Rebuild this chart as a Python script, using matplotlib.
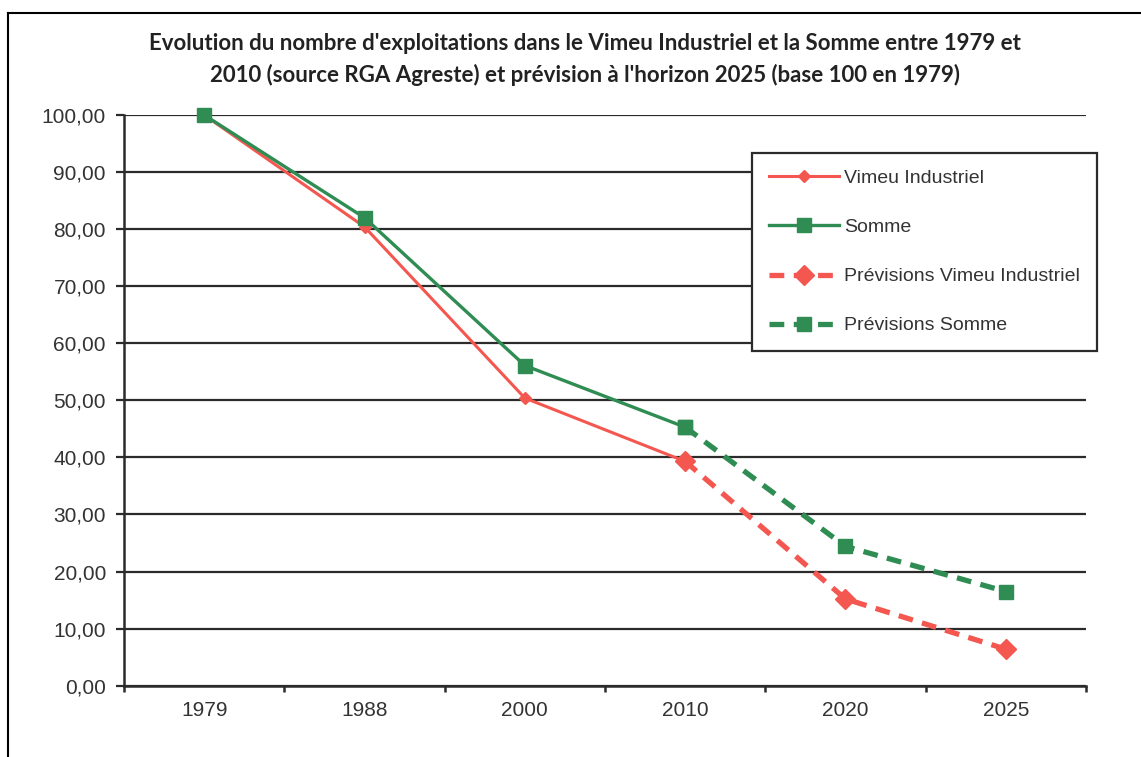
import numpy as np
import matplotlib
matplotlib.use('Agg')
from matplotlib import pyplot as plt
from matplotlib.lines import Line2D

matplotlib.rcParams['font.family'] = ['Liberation Sans', 'DejaVu Sans']

# données (base 100 en 1979)
annees = ['1979', '1988', '2000', '2010', '2020', '2025']
vimeu = [100, 80.4, 50.4, 39.3, np.nan, np.nan]
somme = [100, 82.0, 56.1, 45.3, np.nan, np.nan]
prev_vimeu = [np.nan, np.nan, np.nan, 39.3, 15.2, 6.4]
prev_somme = [np.nan, np.nan, np.nan, 45.3, 24.4, 16.5]
noms = ['Vimeu Industriel', 'Somme', 'Prévisions Vimeu Industriel', 'Prévisions Somme']
titre1 = "Evolution du nombre d'exploitations dans le Vimeu Industriel et la Somme entre 1979 et"
titre2 = "2010 (source RGA Agreste) et prévision à l'horizon 2025 (base 100 en 1979)"

rouge = '#F4574F'
vert = '#2F8C52'
W, H = 1141, 757

fig = plt.figure(figsize=(W / 100, H / 100), dpi=100)
ax = fig.add_axes([124 / W, 1 - 685.7 / H, (1086 - 124) / W, (685.7 - 115) / H])

x = np.arange(len(annees))
ax.plot(x, vimeu, color=rouge, lw=2.2, marker='D', ms=6, clip_on=False, label=noms[0], zorder=3)
ax.plot(x, somme, color=vert, lw=2.4, marker='s', ms=10, clip_on=False, label=noms[1], zorder=4)
ax.plot(x, prev_vimeu, color=rouge, lw=3.8, dashes=(2.8, 1.8), marker='D', ms=10,
        clip_on=False, label=noms[2], zorder=3)
ax.plot(x, prev_somme, color=vert, lw=3.8, dashes=(2.8, 1.8), marker='s', ms=10,
        clip_on=False, label=noms[3], zorder=4)

ax.set_xlim(-0.5, len(annees) - 0.5)
ax.set_ylim(0, 100)
ax.set_yticks(np.arange(0, 101, 10))
ax.set_yticklabels(['%d,00' % v for v in range(0, 101, 10)])
ax.yaxis.grid(True, color='#2b2b2b', lw=1.6)
ax.set_axisbelow(True)

# ticks entre les catégories, étiquettes au centre
ax.set_xticks(np.arange(-0.5, len(annees)), minor=False)
ax.set_xticklabels([])
ax.set_xticks(x, minor=True)
ax.set_xticklabels(annees, minor=True)
ax.tick_params(axis='x', which='major', direction='out', length=4, width=1.8, color='#2b2b2b')
ax.tick_params(axis='x', which='minor', length=0, pad=11, labelsize=15, labelcolor='#333333')
ax.tick_params(axis='y', direction='out', length=6, width=1.6, color='#2b2b2b', pad=7,
               labelsize=15, labelcolor='#333333')

for s in ['top', 'right']:
    ax.spines[s].set_visible(False)
for s in ['left', 'bottom']:
    ax.spines[s].set_color('#2b2b2b')
    ax.spines[s].set_linewidth(1.8)

leg = ax.legend(loc='upper left', bbox_to_anchor=(752 / W, 1 - 153 / H),
                bbox_transform=fig.transFigure, fontsize=14, frameon=True, fancybox=False,
                framealpha=1, edgecolor='#2b2b2b', handlelength=3.6, handletextpad=0.3,
                labelspacing=1.62, borderpad=0.85, borderaxespad=0)
leg.get_frame().set_linewidth(1.6)
for t in leg.get_texts():
    t.set_color('#333333')

fig.text(585 / W, 1 - 43 / H, titre1, ha='center', va='center', fontsize=16,
         family='Lato', weight='bold', color='#222222')
fig.text(585 / W, 1 - 75 / H, titre2, ha='center', va='center', fontsize=16,
         family='Lato', weight='bold', color='#222222')

# cadre de la capture
fig.add_artist(Line2D([8 / W, 1], [1 - 13 / H, 1 - 13 / H], transform=fig.transFigure,
                      color='black', lw=1.5))
fig.add_artist(Line2D([8 / W, 8 / W], [0, 1 - 13 / H], transform=fig.transFigure,
                      color='black', lw=1.5))

fig.savefig('out.png', dpi=100)
